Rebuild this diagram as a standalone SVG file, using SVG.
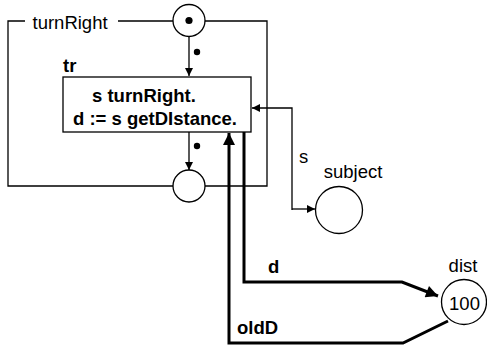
<svg xmlns="http://www.w3.org/2000/svg" width="487" height="350" viewBox="0 0 487 350">
<style>
text{font-family:"Liberation Sans",Arial,sans-serif;font-size:18.5px;fill:#000}
.b{font-weight:bold}
.ln{fill:none;stroke:#000;stroke-width:1.3}
.th{fill:none;stroke:#000;stroke-width:3}
.pl{fill:#fff;stroke:#000;stroke-width:1.3}
</style>
<defs>
<marker id="a" viewBox="0 0 10 10" refX="10" refY="5" markerWidth="8" markerHeight="8" markerUnits="userSpaceOnUse" orient="auto"><path d="M0,0L10,5L0,10z"/></marker>
<marker id="at" viewBox="0 0 10 10" refX="10" refY="5" markerWidth="4.7" markerHeight="4" orient="auto"><path d="M0,0L10,5L0,10z"/></marker>
</defs>
<g id="connectors">
<path class="ln" d="M25,21H8V186H173M205,186H267V21H205M118,21H173"/>
<path class="ln" d="M189,36V76" marker-end="url(#a)"/>
<path class="ln" d="M189,132V170" marker-end="url(#a)"/>
<path class="ln" d="M292,210V108H252" marker-end="url(#a)"/>
<path class="ln" d="M292,209H315" marker-end="url(#a)"/>
<path class="th" d="M244,132V282H402L438,296" marker-end="url(#at)"/>
<path class="th" d="M448,321L403,343H229V133" marker-end="url(#at)"/>
<circle cx="197" cy="52" r="3.2"/>
<circle cx="197" cy="146" r="3.2"/>
<text x="299" y="163">s</text>
<text x="268" y="273" class="b">d</text>
<text x="237" y="334" class="b">oldD</text>
</g>
<g id="turnRight">
<text x="32.5" y="29">turnRight</text>
</g>
<g id="top-place">
<circle class="pl" cx="189" cy="20.5" r="16"/>
<circle cx="189" cy="20.5" r="3.6"/>
</g>
<g id="bottom-place">
<circle class="pl" cx="189" cy="186" r="16"/>
</g>
<g id="tr">
<text x="63" y="72" class="b">tr</text>
<rect x="63" y="77" width="188" height="55" class="pl"/>
<text x="92" y="102" class="b">s turnRight.</text>
<text x="73" y="125" class="b">d := s getDIstance.</text>
</g>
<g id="subject">
<text x="353" y="178" text-anchor="middle">subject</text>
<circle class="pl" cx="339" cy="210" r="23.5"/>
</g>
<g id="dist">
<text x="463" y="272" text-anchor="middle">dist</text>
<circle class="pl" cx="464" cy="302" r="22.5"/>
<text x="464.5" y="310" text-anchor="middle">100</text>
</g>
</svg>
